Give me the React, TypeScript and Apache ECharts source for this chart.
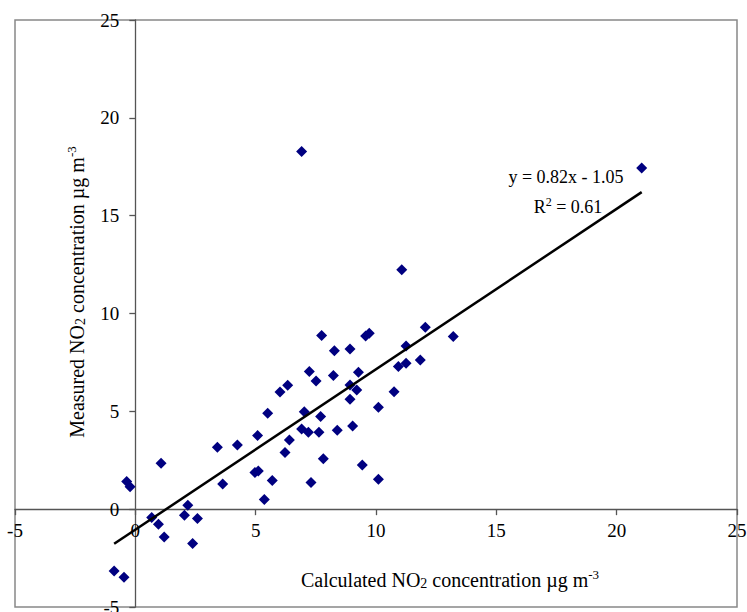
import React, { useEffect, useRef } from "react";
import * as echarts from "echarts";

// Calculated NO2 concentration (x) and measured NO2 concentration (y), µg m-3
const calculated = [
  -0.88, -0.47, -0.36, -0.22, 0.68, 0.96, 1.07, 1.2, 2.04, 2.18, 2.38, 2.58,
  3.41, 3.63, 4.24, 4.97, 5.11, 5.08, 5.36, 5.5, 5.69, 6.01, 6.22, 6.33, 6.4,
  6.91, 6.91, 7.02, 7.19, 7.23, 7.3, 7.51, 7.63, 7.7, 7.74, 7.81, 8.23, 8.27,
  8.39, 8.92, 8.92, 8.92, 9.03, 9.2, 9.27, 9.43, 9.57, 9.72, 10.1, 10.1, 10.75,
  10.93, 11.07, 11.25, 11.25, 11.84, 12.05, 13.21, 21.04,
];
const measured = [
  -3.16, -3.48, 1.41, 1.15, -0.43, -0.77, 2.35, -1.42, -0.31, 0.2, -1.75, -0.48,
  3.16, 1.28, 3.28, 1.87, 1.95, 3.76, 0.5, 4.9, 1.46, 5.99, 2.89, 6.33, 3.54,
  4.1, 18.28, 4.98, 3.93, 7.03, 1.36, 6.55, 3.93, 4.73, 8.87, 2.58, 6.83, 8.09,
  4.03, 8.18, 6.35, 5.62, 4.25, 6.09, 7.0, 2.26, 8.85, 8.99, 5.21, 1.53, 6.0,
  7.29, 12.23, 7.46, 8.34, 7.62, 9.3, 8.82, 17.43,
];

// Linear trend line y = 0.82x - 1.05 (R² = 0.61), drawn over the data range
const trendSlope = 0.82;
const trendIntercept = -1.05;
const trendXRange = [-0.88, 21.04];

const axisMin = -5;
const axisMax = 25;
const axisInterval = 5;

const FONT = "'Liberation Serif', 'Times New Roman', serif";

// plot-area geometry (px)
const GRID = { left: 15, top: 20, right: 10, bottom: 5 };
const W = 747;
const H = 612;

export default function App() {
  const ref = useRef<HTMLDivElement>(null);

  useEffect(() => {
    if (!ref.current) return;
    const chart = echarts.init(ref.current, undefined, { renderer: "svg" });

    const points = calculated.map((x, i) => [x, measured[i]]);
    const trend = trendXRange.map((x) => [x, trendSlope * x + trendIntercept]);

    // axes cross at zero: shift each axis from the plot edge to the zero line
    const gw = W - GRID.left - GRID.right;
    const gh = H - GRID.top - GRID.bottom;
    const zeroFracX = (0 - axisMin) / (axisMax - axisMin);
    const zeroFracY = (0 - axisMin) / (axisMax - axisMin);
    const xAxisOffset = -gh * zeroFracY;
    const yAxisOffset = -gw * zeroFracX;

    const axisCommon = {
      type: "value" as const,
      min: axisMin,
      max: axisMax,
      interval: axisInterval,
      splitLine: { show: false },
      axisLine: { show: true, onZero: false, lineStyle: { color: "#555", width: 1.3 } },
      axisTick: { show: true, length: 6, lineStyle: { color: "#555", width: 1.3 } },
    };

    chart.setOption({
      animation: false,
      backgroundColor: "#fff",
      grid: {
        ...GRID,
        containLabel: false,
        outerBoundsMode: "none",
        show: true,
        borderColor: "#888",
        borderWidth: 1.5,
        backgroundColor: "transparent",
      },
      xAxis: {
        ...axisCommon,
        position: "bottom",
        offset: xAxisOffset,
        axisLabel: {
          fontFamily: FONT,
          fontSize: 19,
          color: "#000",
          margin: 12,
          showMinLabel: true,
          showMaxLabel: true,
          hideOverlap: false,
        },
      },
      yAxis: {
        ...axisCommon,
        position: "left",
        offset: yAxisOffset,
        axisLabel: {
          fontFamily: FONT,
          fontSize: 19,
          color: "#000",
          margin: 16,
          showMinLabel: true,
          showMaxLabel: true,
          hideOverlap: false,
        },
      },
      series: [
        {
          type: "scatter",
          data: points,
          symbol: "diamond",
          symbolSize: 11,
          itemStyle: { color: "#000080", opacity: 1 },
          z: 3,
        },
        {
          type: "line",
          data: trend,
          showSymbol: false,
          symbol: "none",
          lineStyle: { color: "#000", width: 2.5 },
          z: 4,
        },
      ],
      graphic: [
        {
          type: "text",
          x: 450,
          y: 580,
          style: {
            text: "{a|Calculated NO}{sub|2}{a| concentration µg m}{sup|-3}",
            align: "center",
            verticalAlign: "middle",
            rich: {
              a: { fontFamily: FONT, fontSize: 20, fill: "#000", lineHeight: 24 },
              sub: { fontFamily: FONT, fontSize: 14, fill: "#000", verticalAlign: "bottom", padding: [0, 0, 2, 0] },
              sup: { fontFamily: FONT, fontSize: 13, fill: "#000", verticalAlign: "top" },
            },
          },
        },
        {
          type: "text",
          x: 77,
          y: 292,
          rotation: Math.PI / 2,
          style: {
            text: "{a|Measured NO}{sub|2}{a| concentration µg m}{sup|-3}",
            align: "center",
            verticalAlign: "middle",
            rich: {
              a: { fontFamily: FONT, fontSize: 20, fill: "#000", lineHeight: 24 },
              sub: { fontFamily: FONT, fontSize: 14, fill: "#000", verticalAlign: "bottom", padding: [0, 0, 2, 0] },
              sup: { fontFamily: FONT, fontSize: 13, fill: "#000", verticalAlign: "top" },
            },
          },
        },
        {
          type: "text",
          x: 566,
          y: 177,
          style: {
            text: "y = 0.82x - 1.05",
            align: "center",
            verticalAlign: "middle",
            fontFamily: FONT,
            fontSize: 18,
            fill: "#000",
          },
        },
        {
          type: "text",
          x: 568,
          y: 207,
          style: {
            text: "{a|R}{sup|2}{a| = 0.61}",
            align: "center",
            verticalAlign: "middle",
            rich: {
              a: { fontFamily: FONT, fontSize: 18, fill: "#000", lineHeight: 22 },
              sup: { fontFamily: FONT, fontSize: 12, fill: "#000", verticalAlign: "top" },
            },
          },
        },
      ],
    });

    return () => chart.dispose();
  }, []);

  return (
    <div
      ref={ref}
      style={{ position: "fixed", left: 0, top: 0, width: W, height: H, background: "#fff" }}
    />
  );
}
